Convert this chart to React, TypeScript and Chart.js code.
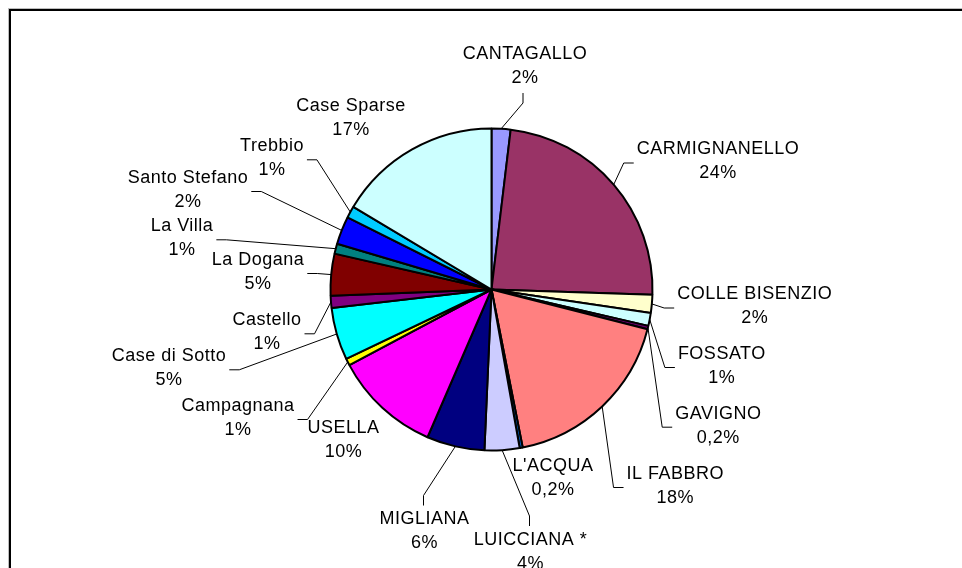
import React, { useEffect, useRef } from "react";
import { Chart, registerables } from "chart.js";

Chart.register(...registerables);

const NAMES = [
  "CANTAGALLO", "CARMIGNANELLO", "COLLE BISENZIO", "FOSSATO", "GAVIGNO",
  "IL FABBRO", "L'ACQUA", "LUICCIANA *", "MIGLIANA", "USELLA",
  "Campagnana", "Case di Sotto", "Castello", "La Dogana", "La Villa",
  "Santo Stefano", "Trebbio", "Case Sparse",
];
const VALUES = [1.9, 23.6, 1.8, 1.3, 0.35, 17.9, 0.3, 3.5, 5.8, 10.7, 0.7, 5.25, 1.2, 4.2, 1.0, 2.8, 1.2, 16.4];
const PCT_LABELS = ["2%", "24%", "2%", "1%", "0,2%", "18%", "0,2%", "4%", "6%", "10%", "1%", "5%", "1%", "5%", "1%", "2%", "1%", "17%"];

const COLORS = [
  "#9999FF", "#993366", "#FFFFCC", "#CCFFFF", "#660066", "#FF8080",
  "#0066CC", "#CCCCFF", "#000080", "#FF00FF", "#FFFF00", "#00FFFF",
  "#800080", "#800000", "#008080", "#0000FF", "#00CCFF", "#CCFFFF",
];

// label placement (offset of label block centre from pie centre) and leader attachment side
const LABEL_LAYOUT: Array<[number, number, string]> = [
  [33.5, -223.5, "bottom"],
  [226.5, -128, "left"],
  [263.2, 17, "left"],
  [230.3, 76.5, "left"],
  [226.8, 136.2, "left"],
  [183.8, 196.5, "left"],
  [61.5, 188.5, "none"],
  [39, 262.5, "top"],
  [-67, 242, "top"],
  [-148, 150.5, "none"],
  [-253.5, 128.5, "right"],
  [-322.5, 78.8, "right"],
  [-224.5, 42.8, "right"],
  [-233.5, -17.5, "right"],
  [-309.5, -51.2, "right"],
  [-303.5, -99.5, "right"],
  [-219.5, -131.2, "right"],
  [-140.5, -171.2, "none"],
];

const FONT = '18px "Liberation Sans", Arial, sans-serif';
const LINE_GAP = 24;

const framePlugin = {
  id: "frame",
  beforeDraw(chart: any) {
    const ctx = chart.ctx;
    ctx.save();
    ctx.fillStyle = "#ffffff";
    ctx.fillRect(0, 0, chart.width, chart.height);
    ctx.fillStyle = "#bdbdbd";
    ctx.fillRect(8, 8, chart.width, 1);
    ctx.fillRect(8, 8, 1, chart.height);
    ctx.fillStyle = "#000000";
    ctx.fillRect(9, 9, chart.width, 2);
    ctx.fillRect(9, 9, 2, chart.height);
    ctx.restore();
  },
};

const labelPlugin = {
  id: "pieLabels",
  afterDatasetsDraw(chart: any) {
    const ctx = chart.ctx;
    const meta = chart.getDatasetMeta(0);
    ctx.save();
    ctx.font = FONT;
    try { (ctx as any).letterSpacing = "0.5px"; } catch (e) {}
    ctx.textAlign = "center";
    ctx.textBaseline = "middle";
    meta.data.forEach((arc: any, i: number) => {
      const p = arc.getProps(["x", "y", "startAngle", "endAngle", "outerRadius"], true);
      const mid = (p.startAngle + p.endAngle) / 2;
      const ax = p.x + Math.cos(mid) * p.outerRadius;
      const ay = p.y + Math.sin(mid) * p.outerRadius;
      const [dx, dy, side] = LABEL_LAYOUT[i];
      const cx = p.x + dx;
      const cy = p.y + dy;
      const w = Math.max(ctx.measureText(NAMES[i]).width, ctx.measureText(PCT_LABELS[i]).width);
      ctx.strokeStyle = "#000";
      ctx.lineWidth = 1;
      if (side !== "none") {
        let ex = 0, ey = 0, bx = 0, by = 0;
        if (side === "left") {
          ex = cx - w / 2 - 3; ey = cy + 1.5; bx = ex - 10; by = ey;
        } else if (side === "right") {
          ex = cx + w / 2 + 3; ey = cy + 1.5; bx = ex + 10; by = ey;
        } else if (side === "bottom") {
          ex = cx - 2; ey = cy + 27; bx = ex; by = ey + 10;
        } else {
          ex = cx - 1; ey = cy - 26; bx = ex; by = ey - 10;
        }
        ctx.beginPath();
        ctx.moveTo(ax, ay);
        ctx.lineTo(bx, by);
        ctx.lineTo(ex, ey);
        ctx.stroke();
      }
      ctx.fillStyle = "#000";
      ctx.fillText(NAMES[i], cx, cy - LINE_GAP / 2);
      ctx.fillText(PCT_LABELS[i], cx, cy + LINE_GAP / 2);
    });
    ctx.restore();
  },
};

export default function App() {
  const ref = useRef<HTMLCanvasElement | null>(null);
  useEffect(() => {
    if (!ref.current) return;
    const chart = new Chart(ref.current, {
      type: "pie",
      data: {
        labels: NAMES,
        datasets: [
          {
            data: VALUES,
            backgroundColor: COLORS,
            borderColor: "#000000",
            borderWidth: 2,
          },
        ],
      },
      options: {
        responsive: false,
        animation: false,
        radius: 161,
        layout: { padding: { left: 21, right: 0, top: 11, bottom: 0 } },
        plugins: {
          legend: { display: false },
          tooltip: { enabled: false },
        },
      } as any,
      plugins: [framePlugin, labelPlugin],
    });
    return () => chart.destroy();
  }, []);
  return (
    <div style={{ position: "absolute", left: 0, top: 0, width: 962, height: 568, overflow: "hidden" }}>
      <canvas ref={ref} width={962} height={568} style={{ display: "block" }} />
    </div>
  );
}
